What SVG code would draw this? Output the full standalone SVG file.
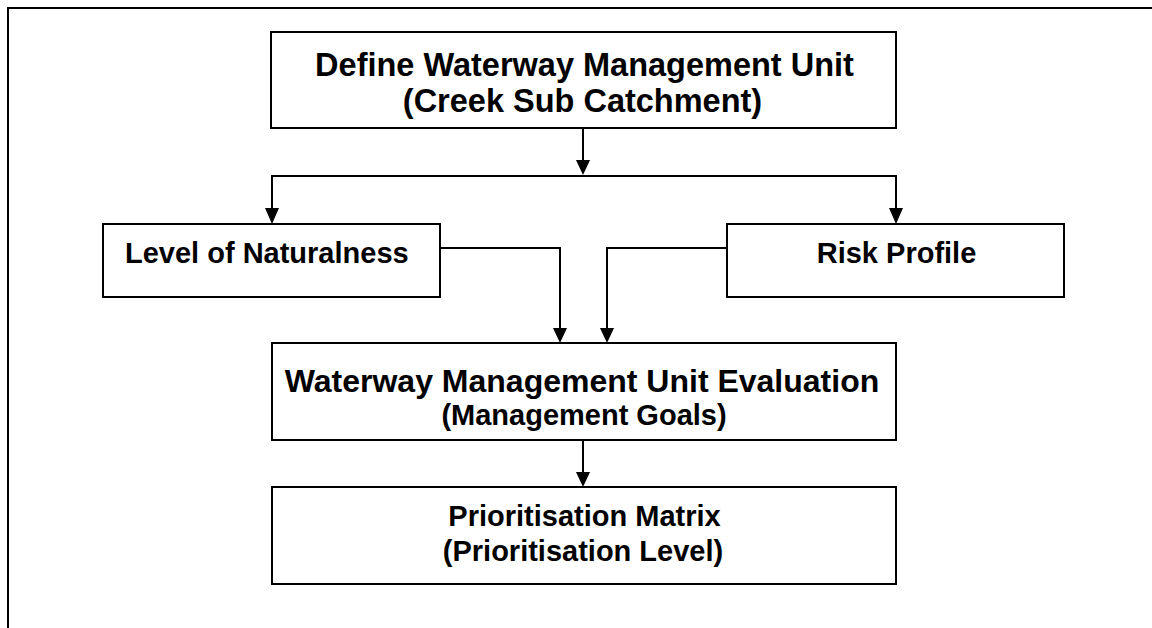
<svg xmlns="http://www.w3.org/2000/svg" width="1152" height="628" viewBox="0 0 1152 628">
<defs>
<style>
.box{fill:#fff;stroke:#000;stroke-width:2}
.t{font-family:"Liberation Sans",Arial,sans-serif;font-weight:bold;font-size:29px;fill:#000}
.big{font-size:32.5px}
.mid{font-size:32px}
.c{text-anchor:middle}
.ln{fill:none;stroke:#000;stroke-width:2}
.ah{fill:#000}
</style>
</defs>
<rect width="1152" height="628" fill="#fff"/>
<path d="M8,628 L8,8 L1152,8" fill="none" stroke="#000" stroke-width="2"/>
<g id="connectors">
<path class="ln" d="M583,128 L583,160"/>
<path class="ah" d="M576,160 L590,160 L583,175 Z"/>
<path class="ln" d="M272,208 L272,176 L896,176 L896,208"/>
<path class="ah" d="M265,208 L279,208 L272,224 Z"/>
<path class="ah" d="M889,208 L903,208 L896,224 Z"/>
<path class="ln" d="M440,248 L560,248 L560,328"/>
<path class="ah" d="M553,328 L567,328 L560,343 Z"/>
<path class="ln" d="M727,248 L607,248 L607,328"/>
<path class="ah" d="M600,328 L614,328 L607,343 Z"/>
<path class="ln" d="M583,440 L583,472"/>
<path class="ah" d="M576,472 L590,472 L583,487 Z"/>
</g>
<g id="define">
<rect class="box" x="271" y="32" width="625" height="96"/>
<text class="t big c" x="584.5" y="76">Define Waterway Management Unit</text>
<text class="t big c" x="582.5" y="112">(Creek Sub Catchment)</text>
</g>
<g id="naturalness">
<rect class="box" x="103" y="224" width="337" height="73"/>
<text class="t" x="125" y="263">Level of Naturalness</text>
</g>
<g id="risk">
<rect class="box" x="727" y="224" width="337" height="73"/>
<text class="t c" x="896.5" y="263">Risk Profile</text>
</g>
<g id="evaluation">
<rect class="box" x="272" y="343" width="624" height="97"/>
<text class="t mid c" x="582" y="392">Waterway Management Unit Evaluation</text>
<text class="t c" x="584" y="425">(Management Goals)</text>
</g>
<g id="matrix">
<rect class="box" x="272" y="487" width="624" height="97"/>
<text class="t c" x="584.5" y="526">Prioritisation Matrix</text>
<text class="t c" x="583" y="561">(Prioritisation Level)</text>
</g>
</svg>
